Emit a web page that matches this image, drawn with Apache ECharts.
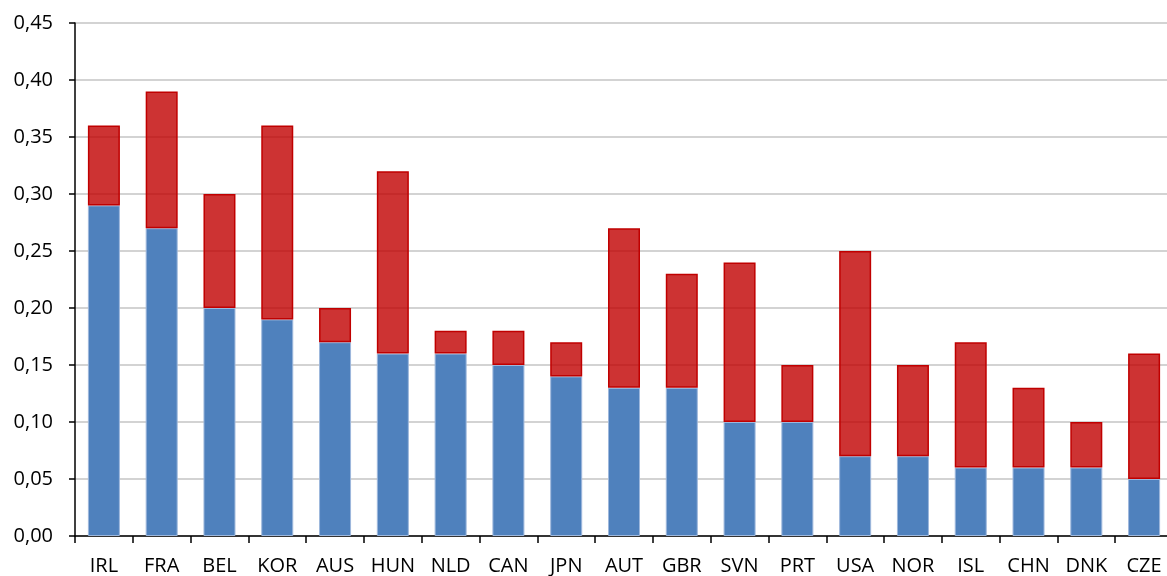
<!DOCTYPE html>
<html>
<head>
<meta charset="utf-8">
<script src="https://cdn.jsdelivr.net/npm/echarts@6/dist/echarts.min.js"></script>
<style>
  html, body { margin: 0; padding: 0; background: #fff; overflow: hidden; }
  #chart { width: 1173px; height: 576px; }
</style>
</head>
<body>
<div id="chart"></div>
<script>
// Country codes along the x axis
const countries = ['IRL', 'FRA', 'BEL', 'KOR', 'AUS', 'HUN', 'NLD', 'CAN', 'JPN', 'AUT',
                   'GBR', 'SVN', 'PRT', 'USA', 'NOR', 'ISL', 'CHN', 'DNK', 'CZE'];
// Lower (blue) segment of each bar
const baseValues = [0.29, 0.27, 0.20, 0.19, 0.17, 0.16, 0.16, 0.15, 0.14, 0.13,
                    0.13, 0.10, 0.10, 0.07, 0.07, 0.06, 0.06, 0.06, 0.05];
// Upper (red) segment stacked on top
const topValues = [0.07, 0.12, 0.10, 0.17, 0.03, 0.16, 0.02, 0.03, 0.03, 0.14,
                   0.10, 0.14, 0.05, 0.18, 0.08, 0.11, 0.07, 0.04, 0.11];

const fontFamily = '"Open Sans", Lato, "DejaVu Sans", sans-serif';
const chart = echarts.init(document.getElementById('chart'), null, { renderer: 'canvas' });

chart.setOption({
  animation: false,
  backgroundColor: '#ffffff',
  grid: { left: 75, top: 23, right: 0, bottom: 39, containLabel: false },
  xAxis: {
    type: 'category',
    data: countries,
    boundaryGap: true,
    axisLine: { lineStyle: { color: '#000', width: 1.5 } },
    axisTick: { show: true, interval: 0, alignWithLabel: false, length: 7, lineStyle: { color: '#000', width: 1.5 } },
    axisLabel: { color: '#000', fontSize: 20, fontFamily: fontFamily, margin: 20, interval: 0, hideOverlap: false },
    splitLine: { show: false }
  },
  yAxis: {
    type: 'value',
    min: 0,
    max: 0.45,
    interval: 0.05,
    axisLine: { show: true, lineStyle: { color: '#000', width: 1.5 } },
    axisTick: { show: true, length: 6, lineStyle: { color: '#000', width: 1.5 } },
    axisLabel: {
      color: '#000', fontSize: 20, fontFamily: fontFamily, margin: 22,
      formatter: v => v.toFixed(2).replace('.', ',')
    },
    splitLine: { show: true, lineStyle: { color: '#c4c4c4', width: 1.5 } }
  },
  series: [
    {
      name: 'base',
      type: 'bar',
      stack: 'total',
      data: baseValues,
      barWidth: 32,
      itemStyle: { color: '#4f81bd', borderColor: '#9db7dc', borderWidth: 1 }
    },
    {
      name: 'top',
      type: 'bar',
      stack: 'total',
      data: topValues,
      barWidth: 32,
      itemStyle: { color: 'rgba(192, 0, 0, 0.8)', borderColor: '#c00000', borderWidth: 1.5 }
    }
  ]
});
</script>
</body>
</html>
